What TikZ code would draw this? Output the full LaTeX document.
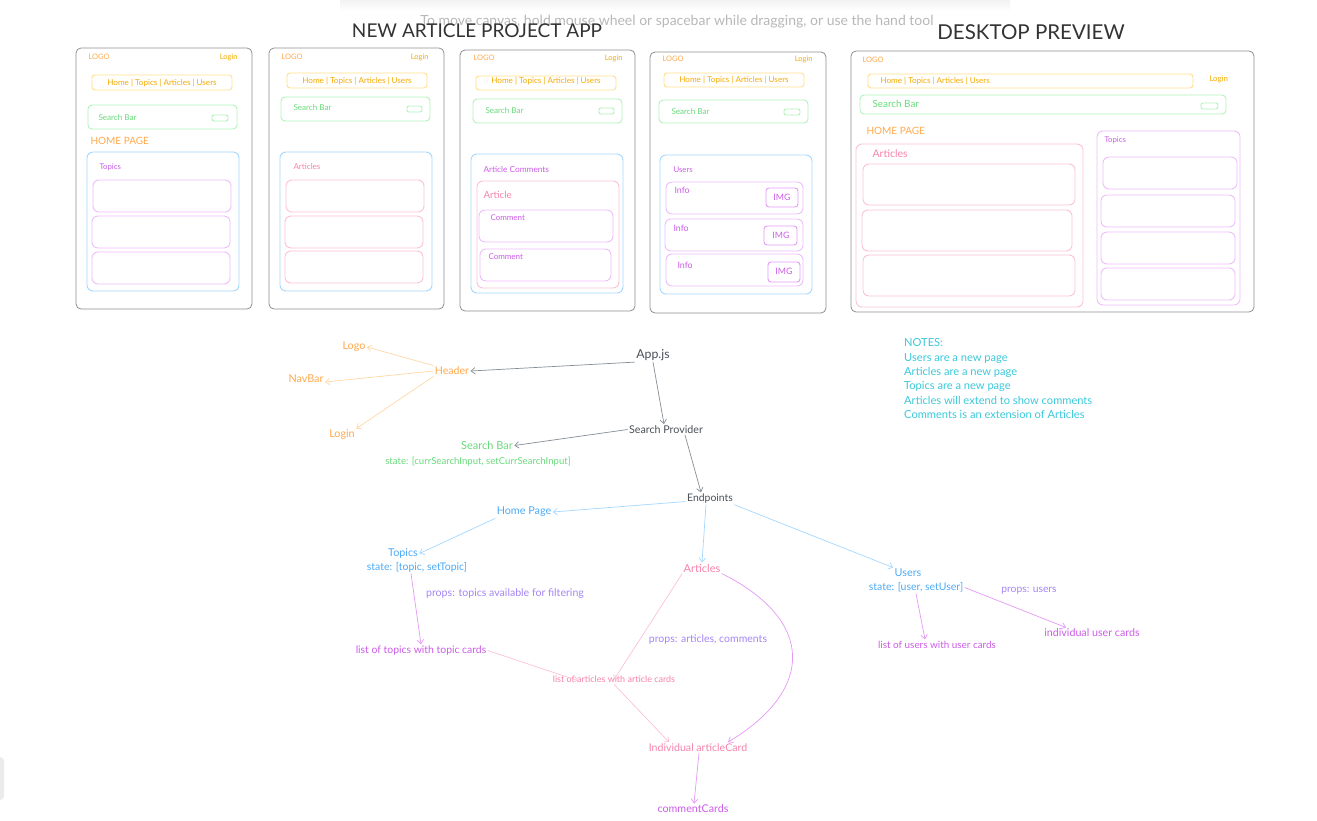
\documentclass[tikz,border=0pt]{standalone}
\usepackage{fontspec}
\setmainfont{Lato}
\usetikzlibrary{arrows.meta}
\definecolor{panelgray}{HTML}{8F8F8F}
\definecolor{titlegray}{HTML}{333333}
\definecolor{hintgray}{HTML}{B8B8B8}
\definecolor{logoorange}{HTML}{FFA94D}
\definecolor{navtext}{HTML}{F5AA00}
\definecolor{navbox}{HTML}{FFE08A}
\definecolor{greentext}{HTML}{69DB7C}
\definecolor{greenbox}{HTML}{B2F2BB}
\definecolor{bluebox}{HTML}{A5D8FF}
\definecolor{bluetext}{HTML}{4DABF7}
\definecolor{purpletext}{HTML}{CC5DE8}
\definecolor{purplebox}{HTML}{EEBEFA}
\definecolor{pinktext}{HTML}{F783AC}
\definecolor{pinkbox}{HTML}{FCC2D7}
\definecolor{darktext}{HTML}{495057}
\definecolor{grayarrow}{HTML}{868E96}
\definecolor{orangearrow}{HTML}{FFD8A8}
\definecolor{purplearrow}{HTML}{E599F7}
\definecolor{lavender}{HTML}{A586F5}
\definecolor{notecyan}{HTML}{3BC9DB}
\newcommand{\fsz}[1]{\fontsize{#1}{#1}\selectfont}
\tikzset{
  panel/.style={draw=panelgray, line width=0.8pt, rounded corners=5pt},
  navframe/.style={draw=navbox, line width=0.9pt, rounded corners=3pt},
  greenframe/.style={draw=greenbox, line width=0.9pt, rounded corners=4pt},
  btnframe/.style={draw=greenbox, line width=0.9pt, rounded corners=2pt},
  blueframe/.style={draw=bluebox, line width=0.9pt, rounded corners=6pt},
  purpleframe/.style={draw=purplebox, line width=0.9pt, rounded corners=6pt},
  pinkframe/.style={draw=pinkbox, line width=0.9pt, rounded corners=6pt},
  imgframe/.style={draw=purplearrow, line width=0.9pt, rounded corners=3pt},
  lbl/.style={inner sep=0pt, outer sep=1.5pt},
  lleft/.style={lbl, anchor=west},
  arr/.style={-{Straight Barb[length=4pt,width=6.5pt]}, line width=0.7pt},
}
\begin{document}
\begin{tikzpicture}[x=1pt,y=-1pt]
\useasboundingbox (0,0) rectangle (1317,820);
\fill[white] (0,0) rectangle (1317,820);
% top toast shadow and hint
\shade[top color=black!5, bottom color=white] (340,0) rectangle (1010,11);
\node[lbl, text=hintgray, font=\fsz{14}] (hint) at (677,22) {To move canvas, hold mouse wheel or spacebar while dragging, or use the hand tool};
\node[lbl, text=titlegray, font=\fsz{19}] (title1) at (477,31) {NEW ARTICLE PROJECT APP};
\node[lbl, text=titlegray, font=\fsz{20.5}] (title2) at (1031,32) {DESKTOP PREVIEW};
% bottom-left widget edge
\fill[black!8, rounded corners=4pt] (-6,757) rectangle (4,800);

% ---------- Panel 1 ----------
\draw[panel] (76,48) rectangle (252,309);
\node[lleft, text=logoorange, font=\fsz{7.5}] (p1logo) at (87,57) {LOGO};
\node[lbl, anchor=east, text=navtext, font=\fsz{7.5}] (p1login) at (239,57) {Login};
\draw[navframe] (92,75) rectangle (232,90);
\node[lbl, text=navtext, font=\fsz{8.1}] (p1nav) at (162,83) {Home | Topics | Articles | Users};
\draw[greenframe] (88,105) rectangle (237,129);
\node[lleft, text=greentext, font=\fsz{8.1}] (p1search) at (97,118) {Search Bar};
\draw[btnframe] (212,115) rectangle (228,121);
\node[lleft, text=logoorange, font=\fsz{10}] (p1home) at (89,141) {HOME PAGE};
\draw[blueframe] (87,152) rectangle (239,291);
\node[lleft, text=purpletext, font=\fsz{7.8}] (p1topics) at (98,167) {Topics};
\draw[purpleframe] (93,180) rectangle (231,212);
\draw[purpleframe] (92,216) rectangle (230,248);
\draw[purpleframe] (92,252) rectangle (230,284);

% ---------- Panel 2 ----------
\draw[panel] (269,48) rectangle (444,309);
\node[lleft, text=logoorange, font=\fsz{7.5}] (p2logo) at (280,57) {LOGO};
\node[lbl, anchor=east, text=navtext, font=\fsz{7.5}] (p2login) at (430,57) {Login};
\draw[navframe] (287,73) rectangle (427,88);
\node[lbl, text=navtext, font=\fsz{8.1}] (p2nav) at (357,81) {Home | Topics | Articles | Users};
\draw[greenframe] (281,97) rectangle (430,121);
\node[lleft, text=greentext, font=\fsz{8.1}] (p2search) at (292,108) {Search Bar};
\draw[btnframe] (407,106) rectangle (422,112);
\draw[blueframe] (280,152) rectangle (432,291);
\node[lleft, text=pinktext, font=\fsz{8.1}] (p2articles) at (292,167) {Articles};
\draw[pinkframe] (286,180) rectangle (424,212);
\draw[pinkframe] (285,216) rectangle (423,248);
\draw[pinkframe] (285,251) rectangle (423,283);

% ---------- Panel 3 ----------
\draw[panel] (460,50) rectangle (635,311);
\node[lleft, text=logoorange, font=\fsz{7.5}] (p3logo) at (472,58) {LOGO};
\node[lbl, anchor=east, text=navtext, font=\fsz{7.5}] (p3login) at (624,58) {Login};
\draw[navframe] (476,76) rectangle (616,90);
\node[lbl, text=navtext, font=\fsz{8.1}] (p3nav) at (546,81) {Home | Topics | Articles | Users};
\draw[greenframe] (473,99) rectangle (622,123);
\node[lleft, text=greentext, font=\fsz{8.1}] (p3search) at (484,111) {Search Bar};
\draw[btnframe] (599,108) rectangle (614,114);
\draw[blueframe] (471,154) rectangle (623,293);
\node[lleft, text=purpletext, font=\fsz{8.3}] (p3ac) at (482,169) {Article Comments};
\draw[pinkframe] (477,181) rectangle (619,288);
\node[lleft, text=pinktext, font=\fsz{9.8}] (p3article) at (482,195) {Article};
\draw[purpleframe] (479,210) rectangle (613,242);
\node[lleft, text=purpletext, font=\fsz{8}] (p3c1) at (489,218) {Comment};
\draw[purpleframe] (480,249) rectangle (611,281);
\node[lleft, text=purpletext, font=\fsz{8}] (p3c2) at (487,257) {Comment};

% ---------- Panel 4 ----------
\draw[panel] (650,52) rectangle (826,313);
\node[lleft, text=logoorange, font=\fsz{7.5}] (p4logo) at (661,59) {LOGO};
\node[lbl, anchor=east, text=navtext, font=\fsz{7.5}] (p4login) at (814,59) {Login};
\draw[navframe] (664,73) rectangle (804,87);
\node[lbl, text=navtext, font=\fsz{8.1}] (p4nav) at (734,80) {Home | Topics | Articles | Users};
\draw[greenframe] (659,100) rectangle (808,123);
\node[lleft, text=greentext, font=\fsz{8.1}] (p4search) at (670,112) {Search Bar};
\draw[btnframe] (784,109) rectangle (800,115);
\draw[blueframe] (660,155) rectangle (812,294);
\node[lleft, text=purpletext, font=\fsz{7.8}] (p4users) at (672,170) {Users};
\draw[purpleframe] (666,182) rectangle (803,214);
\node[lleft, text=purpletext, font=\fsz{8.8}] (p4i1) at (673,190) {Info};
\draw[imgframe] (766,188) rectangle (798,207);
\node[lbl, text=purpletext, font=\fsz{8.8}] (p4m1) at (782,197.5) {IMG};
\draw[purpleframe] (665,219) rectangle (803,251);
\node[lleft, text=purpletext, font=\fsz{8.8}] (p4i2) at (672,228) {Info};
\draw[imgframe] (764,226) rectangle (797,245);
\node[lbl, text=purpletext, font=\fsz{8.8}] (p4m2) at (781,235.5) {IMG};
\draw[purpleframe] (666,254) rectangle (803,286);
\node[lleft, text=purpletext, font=\fsz{8.8}] (p4i3) at (676,265) {Info};
\draw[imgframe] (768,262) rectangle (800,282);
\node[lbl, text=purpletext, font=\fsz{8.8}] (p4m3) at (784,271.5) {IMG};

% ---------- Panel 5 (desktop) ----------
\draw[panel] (851,51) rectangle (1254,312);
\node[lleft, text=logoorange, font=\fsz{7.5}] (p5logo) at (861,60) {LOGO};
\draw[navframe] (868,74) rectangle (1193,88);
\node[lleft, text=navtext, font=\fsz{8.1}] (p5nav) at (879,81) {Home | Topics | Articles | Users};
\node[lleft, text=navtext, font=\fsz{7.8}] (p5login) at (1208,79) {Login};
\draw[greenframe] (860,95) rectangle (1226,114);
\node[lleft, text=greentext, font=\fsz{9.9}] (p5search) at (871,104) {Search Bar};
\draw[btnframe] (1201,103) rectangle (1218,109);
\node[lleft, text=logoorange, font=\fsz{10}] (p5home) at (865,131) {HOME PAGE};
\draw[pinkframe] (856,144) rectangle (1083,307);
\node[lleft, text=pinktext, font=\fsz{10.6}] (p5articles) at (871,154) {Articles};
\draw[pinkframe] (863,164) rectangle (1075,205);
\draw[pinkframe] (862,210) rectangle (1072,251);
\draw[pinkframe] (863,255) rectangle (1075,296);
\draw[purpleframe] (1097,131) rectangle (1240,305);
\node[lleft, text=purpletext, font=\fsz{7.8}] (p5topics) at (1103,140) {Topics};
\draw[purpleframe] (1103,157) rectangle (1237,189);
\draw[purpleframe] (1101,195) rectangle (1235,227);
\draw[purpleframe] (1101,232) rectangle (1235,264);
\draw[purpleframe] (1101,268) rectangle (1235,300);

% ---------- Notes ----------
\node[text=notecyan, font=\fontsize{11.1}{14.4}\selectfont, align=left, anchor=north west, inner sep=0pt] (notes) at (904,338.5)
  {NOTES:\\ Users are a new page\\ Articles are a new page\\ Topics are a new page\\ Articles will extend to show comments\\ Comments is an extension of Articles};

% ---------- Flow diagram ----------
\node[lbl, text=darktext, font=\fsz{12.3}] (app) at (653,355) {App.js};
\node[lbl, text=logoorange, font=\fsz{10.6}] (header) at (452,371) {Header};
\node[lbl, text=logoorange, font=\fsz{10.8}] (logo) at (354,347) {Logo};
\node[lbl, text=logoorange, font=\fsz{10.8}] (navbar) at (306,379) {NavBar};
\node[lbl, text=logoorange, font=\fsz{10.8}] (login) at (342,435) {Login};
\node[lbl, text=darktext, font=\fsz{10.7}] (sp) at (666,429.5) {Search Provider};
\node[lbl, text=greentext, font=\fsz{11}] (sbar) at (487,445.5) {Search Bar};
\node[lbl, text=greentext, font=\fsz{9.6}] (sbstate) at (478,462) {state: [currSearchInput, setCurrSearchInput]};
\node[lbl, text=darktext, font=\fsz{10.4}] (endpoints) at (710,498.5) {Endpoints};
\node[lbl, text=bluetext, font=\fsz{10.8}] (homepage) at (524,512) {Home Page};
\node[lbl, text=bluetext, font=\fsz{10.8}] (topics) at (403,553.5) {Topics};
\node[lbl, text=bluetext, font=\fsz{10.5}] (topicstate) at (417,567) {state: [topic, setTopic]};
\node[lbl, text=lavender, font=\fsz{10.6}] (propstopics) at (505,594) {props: topics available for filtering};
\node[lbl, text=purpletext, font=\fsz{10.4}] (listtopics) at (421,650.5) {list of topics with topic cards};
\node[lbl, text=pinktext, font=\fsz{11}] (articles) at (702,568) {Articles};
\node[lbl, text=lavender, font=\fsz{10.5}] (propsarticles) at (708,640) {props: articles, comments};
\node[lbl, text=pinktext, font=\fsz{9}] (listarticles) at (614,679.5) {list of articles with article cards};
\node[lbl, text=pinktext, font=\fsz{10.6}] (indiv) at (698,747.5) {Individual articleCard};
\node[lbl, text=purpletext, font=\fsz{10.7}] (comments) at (693,809) {commentCards};
\node[lbl, text=bluetext, font=\fsz{10.8}] (users) at (908,573) {Users};
\node[lbl, text=bluetext, font=\fsz{10.5}] (userstate) at (916,587.5) {state: [user, setUser]};
\node[lbl, text=lavender, font=\fsz{10.3}] (propsusers) at (1029,591) {props: users};
\node[lbl, text=purpletext, font=\fsz{9.9}] (listusers) at (937,644.5) {list of users with user cards};
\node[lbl, text=purpletext, font=\fsz{10.7}] (indivusers) at (1092,633) {individual user cards};

\draw[arr, grayarrow] (app.south west) -- (header.east);
\draw[arr, orangearrow] (header.north west) -- (logo.east);
\draw[arr, orangearrow] (header.west) -- ([yshift=-3pt]navbar.east);
\draw[arr, orangearrow] (header.south west) -- (login.north east);
\draw[arr, grayarrow] (app.south) -- ([xshift=-2pt]sp.north);
\draw[arr, grayarrow] (sp.west) -- (sbar.east);
\draw[arr, grayarrow] ([xshift=19pt]sp.south) -- ([xshift=-9pt]endpoints.north);
\draw[arr, bluebox] ([yshift=-3pt]endpoints.west) -- (homepage.east);
\draw[arr, bluebox] (homepage.south west) -- (topics.east);
\draw[arr, bluebox] ([xshift=-4pt]endpoints.south) -- (articles.north);
\draw[arr, bluebox] (endpoints.south east) -- (users.north west);
\draw[arr, purplearrow] ([xshift=-6pt]topicstate.south) -- (listtopics.north);
\draw[arr, pinkbox] (listtopics.east) -- ([xshift=-36pt,yshift=-6pt]listarticles.north);
\draw[arr, pinkbox] (articles.south west) -- ([yshift=-5pt]listarticles.north);
\draw[arr, purplearrow] (articles.south east) .. controls (815,620) and (815,690) .. ([xshift=30pt]indiv.north);
\draw[arr, pinkbox] (listarticles.south) -- ([xshift=-29pt]indiv.north);
\draw[arr, purplearrow] ([xshift=1pt]indiv.south) -- ([xshift=1pt]comments.north);
\draw[arr, purplearrow] (userstate.south) -- ([xshift=-12pt]listusers.north);
\draw[arr, purplearrow] (userstate.east) -- ([xshift=-26pt]indivusers.north);
\end{tikzpicture}
\end{document}
